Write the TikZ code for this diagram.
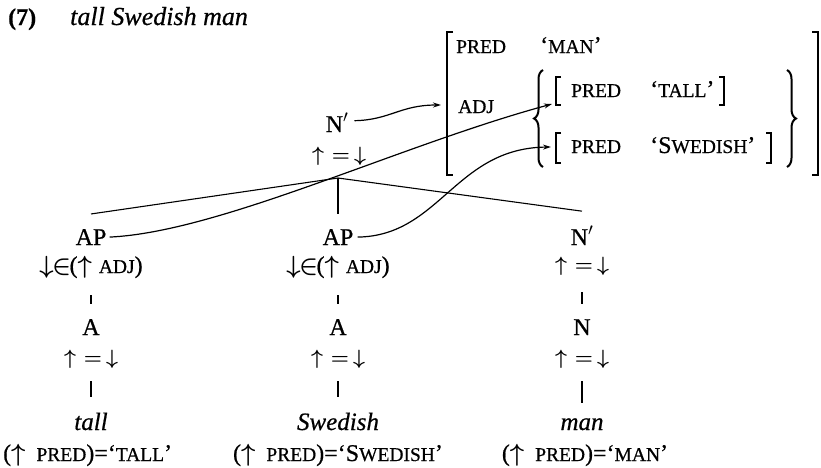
\documentclass[tikz,border=0pt]{standalone}
\usepackage{fontspec}
\setmainfont{Liberation Serif}[FakeBold=0.6]
\usetikzlibrary{arrows.meta,decorations.pathreplacing}
\newcommand\sk[1]{{\fontsize{19.5}{19.5}\selectfont #1}}
\newcommand\myup{\ensuremath{\uparrow}}
\newcommand\eqdn{$\uparrow\mkern1mu{=}\mkern-2mu\downarrow$}
\newcommand\inadj{$\downarrow\mkern-1mu\in\mkern-1mu$(\myup\hspace{7pt}\sk{ADJ})}
\newcommand\fdesc[1]{(\myup\hspace{11pt}\sk{PRED})=#1}
\tikzset{
  lab/.style={font=\fontsize{24}{24}\selectfont, anchor=base, inner sep=0pt},
  word/.style={font=\fontsize{25}{25}\selectfont\itshape, anchor=base, inner sep=0pt},
  eqn/.style={font=\boldmath\fontsize{22}{22}\selectfont, anchor=center, inner sep=0pt},
  fd/.style={font=\boldmath\fontsize{24}{24}\selectfont, anchor=base, inner sep=0pt},
  avm/.style={font=\fontsize{24}{24}\selectfont, anchor=base west, inner sep=0pt},
  tree/.style={line width=1.1pt},
  brk/.style={line width=2.6pt},
  ibrk/.style={line width=1.3pt},
  curly/.style={line width=2pt, decorate, decoration={brace, amplitude=9pt, aspect=0.5}},
  link/.style={line width=1.2pt, -{Stealth[length=8pt,width=5pt]}},
}
\begin{document}
\begin{tikzpicture}[x=1pt,y=-1pt]
\useasboundingbox (0,0) rectangle (821,467);
% title
\node[lab, anchor=base west, font=\fontsize{24}{24}\selectfont\bfseries] (num) at (8,25) {(7)};
\node[word, anchor=base west, font=\fontsize{26}{26}\selectfont\itshape] (title) at (70,25) {tall Swedish man};
% top node
\node[lab] (n0) at (337,132) {N$'$};
\node[eqn] (eq0) at (339,156) {\eqdn};
\coordinate (br) at (338,178);
% left column
\node[lab] (ap1) at (91,245) {AP};
\node[fd] (adj1) at (91,273) {\inadj};
\node[lab] (a1) at (91,335) {A};
\node[eqn] (eq1) at (91,359) {\eqdn};
\node[word] (w1) at (91,430) {tall};
\node[fd, anchor=base west] (f1) at (3,461) {\fdesc{‘\sk{TALL}’}};
% middle column
\node[lab] (ap2) at (338,245) {AP};
\node[fd] (adj2) at (338,273) {\inadj};
\node[lab] (a2) at (338,335) {A};
\node[eqn] (eq2) at (338,359) {\eqdn};
\node[word] (w2) at (338,430) {Swedish};
\node[fd] (f2) at (338,461) {\fdesc{‘S\sk{WEDISH}’}};
% right column
\node[lab] (np) at (582,245) {N$'$};
\node[eqn] (eq3) at (582,266) {\eqdn};
\node[lab] (n1) at (582,335) {N};
\node[eqn] (eq4) at (582,359) {\eqdn};
\node[word] (w3) at (582,430) {man};
\node[fd] (f3) at (585,461) {\fdesc{‘\sk{MAN}’}};
% tree lines
\draw[tree] (br) -- ([yshift=15pt]ap1.north);
\draw[tree] (br) -- ([yshift=15pt]ap2.north);
\draw[tree] (br) -- ([yshift=15pt]np.north);
\draw[tree] ([yshift=-17pt]adj1.south) -- ([yshift=15pt]a1.north);
\draw[tree] ([yshift=-13pt]eq1.south) -- ([yshift=15pt]w1.north);
\draw[tree] ([yshift=-17pt]adj2.south) -- ([yshift=15pt]a2.north);
\draw[tree] ([yshift=-13pt]eq2.south) -- ([yshift=15pt]w2.north);
\draw[tree] ([yshift=-17pt]eq3.south) -- ([yshift=15pt]n1.north);
\draw[tree] ([yshift=-13pt]eq4.south) -- ([yshift=15pt]w3.north);
% AVM outer brackets
\draw[brk] (453,32) -- (447,32) -- (447,175) -- (453,175);
\draw[brk] (812,32) -- (818,32) -- (818,175) -- (812,175);
\node[avm] (p0) at (456,53) {\sk{PRED}};
\node[avm] (v0) at (540,53) {‘\sk{MAN}’};
\node[avm] (adj) at (458,113) {\sk{ADJ}};
% set braces
\coordinate (lbt) at (543,70);
\coordinate (lbb) at (543,167);
\coordinate (rbt) at (787,70);
\coordinate (rbb) at (787,167);
\draw[curly] (lbb) -- (lbt);
\draw[curly] (rbt) -- (rbb);
% inner f-structures
\draw[ibrk] (561,77) -- (556,77) -- (556,105) -- (561,105);
\draw[ibrk] (719,77) -- (724,77) -- (724,105) -- (719,105);
\node[avm] (p1) at (571,97) {\sk{PRED}};
\node[avm] (v1) at (650,97) {‘\sk{TALL}’};
\draw[ibrk] (561,133) -- (556,133) -- (556,163) -- (561,163);
\draw[ibrk] (766,133) -- (771,133) -- (771,163) -- (766,163);
\node[avm] (p2) at (571,153) {\sk{PRED}};
\node[avm] (v2) at (650,153) {‘S\sk{WEDISH}’};
% arrow targets
\coordinate (avmin) at (441,105);
\coordinate (tallin) at (552,104);
\coordinate (swedin) at (551,147);
% links
\draw[link] ([xshift=6pt,yshift=2pt]n0.east) .. controls (390,120) and (400,105) .. (avmin);
\draw[link] ([xshift=3pt]ap1.east) .. controls (220,232) and (400,145) .. (tallin);
\draw[link] ([xshift=4pt]ap2.east) .. controls (440,236) and (455,148) .. (swedin);
\end{tikzpicture}
\end{document}
